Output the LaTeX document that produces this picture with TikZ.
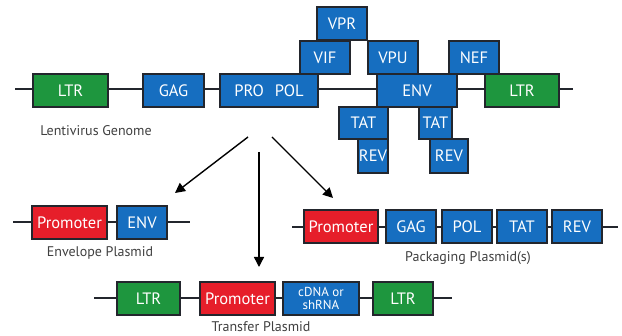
\documentclass[tikz,border=0pt]{standalone}
\usepackage{fontspec}
\setmainfont{PT Sans}
\usetikzlibrary{arrows.meta}
\definecolor{geneblue}{RGB}{22,110,192}
\definecolor{ltrgreen}{RGB}{30,150,62}
\definecolor{promred}{RGB}{230,30,42}
\definecolor{edge}{RGB}{35,38,45}
\tikzset{
  >={Triangle[length=10pt,width=10pt]},
  gene/.style={draw=edge, line width=1.3pt, fill=geneblue, text=white,
    minimum height=33pt, inner sep=0pt, font=\fontsize{16.5}{16.5}\selectfont},
  ltr/.style={gene, fill=ltrgreen},
  prom/.style={gene, fill=promred},
  backbone/.style={draw=edge, line width=1.3pt},
  arr/.style={draw=black, line width=1.4pt, ->},
  lab/.style={font=\fontsize{14}{14}\selectfont, text=black!75},
}
\begin{document}
\begin{tikzpicture}[x=1pt,y=-1pt]
\useasboundingbox (0,0) rectangle (622,336);
% lentivirus genome
\coordinate (gs) at (15,89); \coordinate (ge) at (573,89);
\draw[backbone] (gs) -- (ge);
\node[ltr, minimum width=75pt] (ltrA) at (70.5,90.5) {LTR};
\node[gene, minimum width=61pt] (gag) at (173.5,90.5) {GAG};
\node[gene, minimum width=98pt] (propol) at (269,90.5) {PRO\hspace{11pt}POL};
\node[gene, minimum width=50pt] (vif) at (325,57.5) {VIF};
\node[gene, minimum width=50pt] (vpr) at (342,23.5) {VPR};
\node[gene, minimum width=50pt] (vpu) at (393,57.5) {VPU};
\node[gene, minimum width=50pt] (nef) at (474,57.5) {NEF};
\node[gene, minimum width=80pt] (env) at (417,90.5) {ENV};
\node[ltr, minimum width=74pt] (ltrB) at (522,90.5) {LTR};
\node[gene, minimum width=49pt, minimum height=32pt] (tatA) at (363.5,123) {TAT};
\node[gene, minimum width=30pt, minimum height=34pt] (revA) at (373,156) {REV};
\node[gene, minimum width=33pt, minimum height=32pt] (tatB) at (435.5,123) {TAT};
\node[gene, minimum width=38pt, minimum height=34pt] (revB) at (449,156) {REV};
\node[lab] (genome) at (96,131) {Lentivirus Genome};
% arrows to the plasmids
\coordinate (aL) at (248,137); \coordinate (aM) at (259,152); \coordinate (aR) at (272,137);
\coordinate (tL) at (175,193); \coordinate (tM) at (259,267); \coordinate (tR) at (333,198);
\draw[arr] (aL) -- (tL);
\draw[arr] (aM) -- (tM);
\draw[arr] (aR) -- (tR);
% envelope plasmid
\coordinate (es) at (13,222); \coordinate (ee) at (190,222);
\draw[backbone] (es) -- (ee);
\node[prom, minimum width=75pt] (promA) at (69.5,222.5) {Promoter};
\node[gene, minimum width=50pt] (envE) at (142,222.5) {ENV};
\node[lab] (envlab) at (100,253) {Envelope Plasmid};
% packaging plasmid(s)
\coordinate (ps) at (292,227); \coordinate (pe) at (618,227);
\draw[backbone] (ps) -- (pe);
\node[prom, minimum width=74pt] (promB) at (341,226.5) {Promoter};
\node[gene, minimum width=50pt] (gagP) at (411,226.5) {GAG};
\node[gene, minimum width=50pt] (polP) at (467,226.5) {POL};
\node[gene, minimum width=50pt] (tatP) at (522,226.5) {TAT};
\node[gene, minimum width=50pt] (revP) at (577,226.5) {REV};
\node[lab] (packlab) at (468,258) {Packaging Plasmid(s)};
% transfer plasmid
\coordinate (ts) at (94,298); \coordinate (te) at (452,298);
\draw[backbone] (ts) -- (te);
\node[ltr, minimum width=63pt] (ltrC) at (148.5,298.5) {LTR};
\node[prom, minimum width=75pt] (promC) at (237.5,298.5) {Promoter};
\node[gene, minimum width=76pt, align=center, font=\fontsize{13}{13.5}\selectfont] (cdna) at (321,298.5) {cDNA or\\shRNA};
\node[ltr, minimum width=60pt] (ltrD) at (403,298.5) {LTR};
\node[lab] (translab) at (261,327) {Transfer Plasmid};
\end{tikzpicture}
\end{document}
